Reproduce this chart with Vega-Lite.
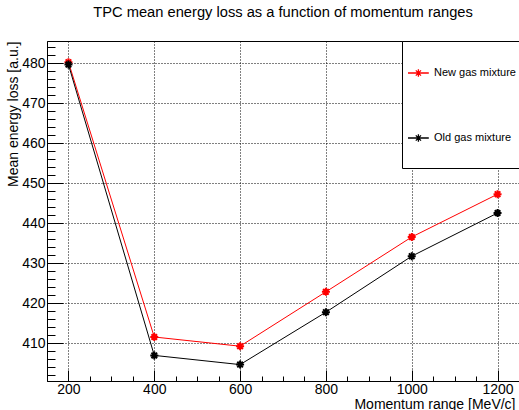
{
  "$schema": "https://vega.github.io/schema/vega-lite/v6.json",
  "width": 472,
  "height": 340,
  "autosize": {"type": "none"},
  "padding": {"left": 47, "top": 41, "right": 0, "bottom": 29},
  "background": "white",
  "config": {
    "font": "Liberation Sans",
    "view": {"stroke": "black", "strokeWidth": 1},
    "axis": {"domainColor": "black", "tickColor": "black", "labelColor": "black", "titleColor": "black", "labelFont": "Liberation Sans", "titleFont": "Liberation Sans", "titleFontWeight": "normal", "gridColor": "black", "gridDash": [1, 2], "gridWidth": 1}
  },
  "title": {"text": "TPC mean energy loss as a function of momentum ranges", "fontSize": 14.7, "fontWeight": "normal", "font": "Liberation Sans", "anchor": "middle", "frame": "group", "offset": 21, "color": "black"},
  "data": {"values": [
    {"p": 200, "e": 480.3, "mix": "New gas mixture"},
    {"p": 400, "e": 411.6, "mix": "New gas mixture"},
    {"p": 600, "e": 409.3, "mix": "New gas mixture"},
    {"p": 800, "e": 422.9, "mix": "New gas mixture"},
    {"p": 1000, "e": 436.6, "mix": "New gas mixture"},
    {"p": 1200, "e": 447.3, "mix": "New gas mixture"},
    {"p": 200, "e": 479.7, "mix": "Old gas mixture"},
    {"p": 400, "e": 407.0, "mix": "Old gas mixture"},
    {"p": 600, "e": 404.7, "mix": "Old gas mixture"},
    {"p": 800, "e": 417.8, "mix": "Old gas mixture"},
    {"p": 1000, "e": 431.8, "mix": "Old gas mixture"},
    {"p": 1200, "e": 442.6, "mix": "Old gas mixture"}
  ]},
  "encoding": {
    "x": {"field": "p", "type": "quantitative", "scale": {"domain": [150, 1250], "nice": false},
      "axis": {
        "values": [200, 250, 300, 350, 400, 450, 500, 550, 600, 650, 700, 750, 800, 850, 900, 950, 1000, 1050, 1100, 1150, 1200],
        "format": "d",
        "labelExpr": "datum.value % 200 === 0 ? datum.label : ''",
        "labelFontSize": 14, "labelPadding": 12, "labelFlush": false,
        "tickSize": {"condition": {"test": "datum.value % 200 === 0", "value": -11}, "value": -5},
        "gridOpacity": {"condition": {"test": "datum.value % 200 === 0", "value": 1}, "value": 0},
        "grid": true,
        "title": "Momentum range [MeV/c]", "titleFontSize": 14,
        "titleAnchor": "end", "titleAlign": "right", "titleBaseline": "alphabetic", "titleX": 468, "titleY": 27
      }},
    "y": {"field": "e", "type": "quantitative", "scale": {"domain": [400.6, 485.6], "nice": false, "zero": false},
      "axis": {
        "values": [402, 404, 406, 408, 410, 412, 414, 416, 418, 420, 422, 424, 426, 428, 430, 432, 434, 436, 438, 440, 442, 444, 446, 448, 450, 452, 454, 456, 458, 460, 462, 464, 466, 468, 470, 472, 474, 476, 478, 480, 482, 484],
        "format": "d",
        "labelExpr": "datum.value % 10 === 0 ? datum.label : ''",
        "labelFontSize": 14, "labelPadding": 18, "labelFlush": false,
        "tickSize": {"condition": {"test": "datum.value % 10 === 0", "value": -16}, "value": -8},
        "gridOpacity": {"condition": {"test": "datum.value % 10 === 0", "value": 1}, "value": 0},
        "grid": true,
        "title": "Mean energy loss [a.u.]", "titleFontSize": 14,
        "titleAngle": 270, "titleAnchor": "end", "titleAlign": "right", "titleBaseline": "alphabetic", "titleX": -30, "titleY": 0
      }}
  },
  "layer": [
    {
      "mark": {"type": "line", "strokeWidth": 1},
      "encoding": {
        "color": {"field": "mix", "type": "nominal",
          "scale": {"domain": ["New gas mixture", "Old gas mixture"], "range": ["#ff0000", "#000000"]},
          "legend": {
            "title": null, "orient": "none", "legendX": 355, "legendY": 0,
            "fillColor": "white", "strokeColor": "black", "padding": 5,
            "symbolType": "M-1,0L-0.2,0M-0.74,0L-0.46,0M-0.6,-0.14L-0.6,0.14M-0.7,-0.1L-0.5,0.1M-0.7,0.1L-0.5,-0.1M-0.6,0.85M4.5,0",
            "symbolSize": 2704, "symbolStrokeWidth": 1.3, "rowPadding": 13,
            "labelOffset": -27, "labelFontSize": 11, "labelFont": "Liberation Sans", "labelColor": "black",
            "labelLimit": 300
          }}
      }
    },
    {
      "mark": {"type": "point", "filled": false, "strokeWidth": 2, "opacity": 1,
        "shape": "M-1,0L1,0M0,-1L0,1M-0.7,-0.7L0.7,0.7M-0.7,0.7L0.7,-0.7", "size": 64},
      "encoding": {
        "stroke": {"field": "mix", "type": "nominal",
          "scale": {"domain": ["New gas mixture", "Old gas mixture"], "range": ["#ff0000", "#000000"]},
          "legend": null}
      }
    }
  ]
}
